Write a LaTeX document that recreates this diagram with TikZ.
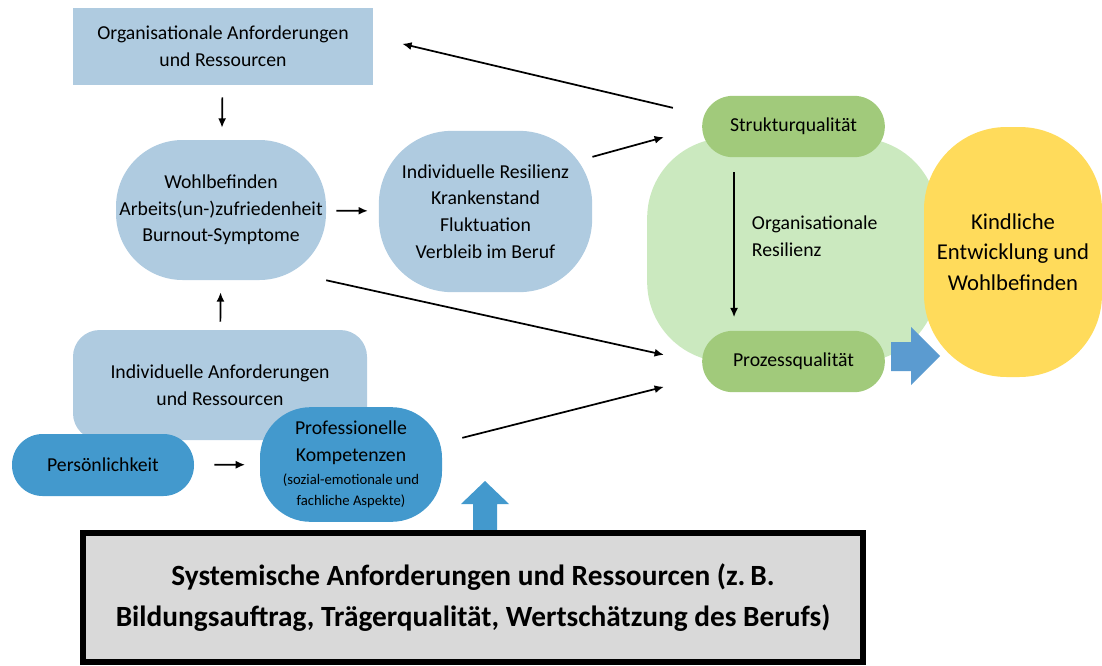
\documentclass[tikz,border=0pt]{standalone}
\usepackage{fontspec}
\setmainfont{Carlito}
\usetikzlibrary{arrows.meta}
\begin{document}
\begin{tikzpicture}[x=0.75pt, y=-0.75pt,
  box/.style = {inner sep=2pt, align=center, text=black, font=\fontsize{14.8}{20}\selectfont},
  conn/.style = {-{Latex[length=7pt,width=6pt]}, line width=1.3pt}]
\useasboundingbox (0,0) rectangle (1102,665);
\definecolor{lightblue}{HTML}{AFCBE0}
\definecolor{midblue}{HTML}{4399CD}
\definecolor{arrowblue}{HTML}{5B9BD0}
\definecolor{palegreen}{HTML}{CBE9BF}
\definecolor{leafgreen}{HTML}{A1CA7B}
\definecolor{sun}{HTML}{FFDB5B}
\definecolor{panel}{HTML}{D9D9D9}
% left column
\node[box, fill=lightblue, minimum width=225pt, minimum height=57.75pt] (org) at (223,46.5) {Organisationale Anforderungen\\und Ressourcen};
\node[box, fill=lightblue, rounded corners=50pt, minimum width=157.5pt, minimum height=105pt] (wohl) at (221,210) {Wohlbefinden\\Arbeits(un-)zufriedenheit\\Burnout-Symptome};
\node[box, fill=lightblue, rounded corners=55pt, minimum width=160pt, minimum height=121pt] (indres) at (485.5,211.5) {Individuelle Resilienz\\Krankenstand\\Fluktuation\\Verbleib im Beruf};
\node[box, fill=lightblue, rounded corners=20pt, minimum width=220.5pt, minimum height=82.5pt] (indanf) at (220,385) {Individuelle Anforderungen\\und Ressourcen};
\node[box, fill=midblue, rounded corners=23pt, minimum width=136.5pt, minimum height=46.5pt] (pers) at (103,465) {Persönlichkeit};
\node[box, fill=midblue, rounded corners=38pt, minimum width=136.5pt, minimum height=86pt] (prof) at (351,464.5) {Professionelle\\Kompetenzen\\[-3pt]{\fontsize{11}{16}\selectfont (sozial-emotionale und}\\[-4pt]{\fontsize{11}{16}\selectfont fachliche Aspekte)}};
% right side
\node[fill=palegreen, rounded corners=60pt, minimum width=218pt, minimum height=168pt] (orgres) at (792.5,250) {};
\node[box, fill=leafgreen, rounded corners=23pt, minimum width=137pt, minimum height=46pt] (struk) at (793.5,126.5) {Strukturqualität};
\node[box, fill=leafgreen, rounded corners=23pt, minimum width=137pt, minimum height=46pt] (proz) at (793.5,361.5) {Prozessqualität};
\node[box, anchor=west, align=left] (orgtext) at (749,236) {Organisationale\\Resilienz};
\node[box, fill=sun, rounded corners=62pt, minimum width=133.5pt, minimum height=187.5pt, font=\fontsize{17}{23}\selectfont] (kind) at (1013,252) {Kindliche\\Entwicklung und\\Wohlbefinden};
\fill[arrowblue] (891,342) -- (911,342) -- (911,327) -- (940,356) -- (911,385) -- (911,371) -- (891,371) -- cycle;
% bottom
\fill[midblue] (473,532) -- (473,504) -- (461,504) -- (485,481) -- (509,504) -- (497,504) -- (497,532) -- cycle;
\node[box, fill=panel, draw=black, line width=4.5pt, minimum width=585pt, minimum height=96.75pt, font=\fontsize{22}{28}\selectfont\bfseries] (sys) at (473,597.5) {Systemische Anforderungen und Ressourcen (z.\,B.\\[3pt]Bildungsauftrag, Trägerqualität, Wertschätzung des Berufs)};
% connectors
\draw[conn, shorten <=9pt, shorten >=9pt] (org) -- (wohl);
\draw[conn, shorten <=7.5pt, shorten >=8pt] (wohl) -- (indres);
\draw[conn, shorten <=6pt, shorten >=9pt] (indanf) -- (wohl);
\draw[conn, shorten <=15pt, shorten >=11pt] (pers) -- (prof);
\draw[conn] ([yshift=41pt]indres.east) -- ([xshift=-28.5pt,yshift=-8pt]struk.west);
\draw[conn] ([xshift=-21.75pt,yshift=14pt]struk.west) -- ([xshift=21.75pt,yshift=2pt]org.east);
\draw[conn] (wohl.south east) -- ([xshift=-28.5pt,yshift=5pt]proz.west);
\draw[conn] ([xshift=15pt,yshift=20pt]prof.east) -- ([xshift=-28.5pt,yshift=-19pt]proz.west);
\draw[conn] ([xshift=-44.6pt,yshift=-11pt]struk.south) -- ([xshift=-44.6pt,yshift=10pt]proz.north);
\end{tikzpicture}
\end{document}
